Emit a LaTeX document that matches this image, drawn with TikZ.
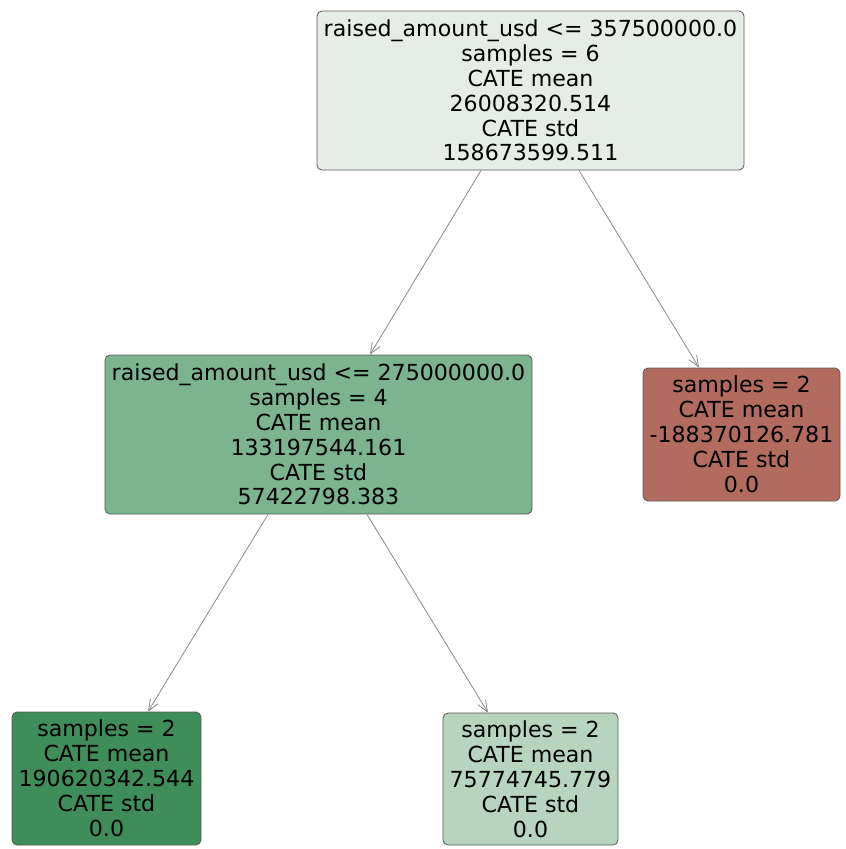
\documentclass[tikz,border=0pt]{standalone}
\usepackage{fontspec}
\setmainfont{DejaVu Sans}
\usetikzlibrary{arrows.meta,calc}
\definecolor{cRoot}{HTML}{E5EDE6}
\definecolor{cMid}{HTML}{7BB48E}
\definecolor{cRight}{HTML}{B26B5F}
\definecolor{cBL}{HTML}{3F8D58}
\definecolor{cBM}{HTML}{B7D4BF}
\definecolor{cBorder}{HTML}{5A5A5A}
\definecolor{cEdge}{HTML}{8A8A8A}
\tikzset{
  treebox/.style={draw=cBorder, line width=0.8pt, rounded corners=5pt, align=center,
    inner sep=0pt, font=\fontsize{22.1}{24.9}\selectfont, text=black},
  treeedge/.style={draw=cEdge, line width=0.8pt, -{Straight Barb[length=11pt,width=9pt,line width=0.8pt]}}
}
\begin{document}
\begin{tikzpicture}[x=1pt,y=-1pt]
\useasboundingbox[fill=white] (0,0) rectangle (846,849);
\node[treebox, fill=cRoot, minimum width=427pt, minimum height=159pt] (root) at (530.5,90.5)
  {raised\_amount\_usd <= 357500000.0\\samples = 6\\CATE mean\\26008320.514\\CATE std\\158673599.511};
\node[treebox, fill=cMid, minimum width=427pt, minimum height=159pt] (mid) at (318.5,434.5)
  {raised\_amount\_usd <= 275000000.0\\samples = 4\\CATE mean\\133197544.161\\CATE std\\57422798.383};
\node[treebox, fill=cRight, minimum width=197pt, minimum height=133pt] (right) at (741.5,434.5)
  {samples = 2\\CATE mean\\-188370126.781\\CATE std\\0.0};
\node[treebox, fill=cBL, minimum width=189pt, minimum height=133pt] (bl) at (106.5,778.5)
  {samples = 2\\CATE mean\\190620342.544\\CATE std\\0.0};
\node[treebox, fill=cBM, minimum width=175pt, minimum height=132pt] (bm) at (530.5,779)
  {samples = 2\\CATE mean\\75774745.779\\CATE std\\0.0};
\draw[treeedge] ([xshift=-49.5pt]root.south) -- ([xshift=51.5pt]mid.north);
\draw[treeedge] ([xshift=48.5pt]root.south) -- ([xshift=-42.5pt]right.north);
\draw[treeedge] ([xshift=-50.5pt]mid.south) -- ([xshift=41.5pt]bl.north);
\draw[treeedge] ([xshift=48.5pt]mid.south) -- ([xshift=-42.5pt]bm.north);
\end{tikzpicture}
\end{document}
